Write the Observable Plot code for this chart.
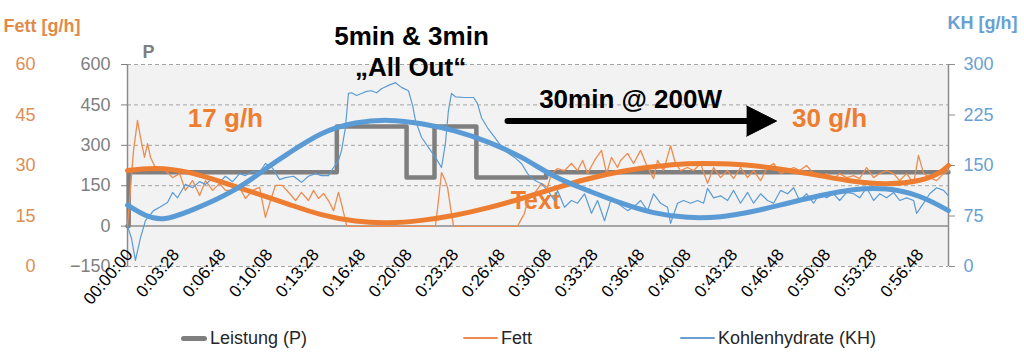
<!DOCTYPE html>
<html><head><meta charset="utf-8">
<script src="https://cdn.jsdelivr.net/npm/d3@7"></script>
<script src="https://cdn.jsdelivr.net/npm/@observablehq/plot@0.6"></script>
<style>
body{margin:0;background:#fff;font-family:"Liberation Sans",Arial,sans-serif;}
#chart{position:relative;width:1024px;height:359px;overflow:hidden;}
#legend{position:absolute;top:320px;left:0;width:1024px;height:39px;font-size:18px;color:#262626;}
.item{position:absolute;top:6px;height:24px;display:flex;align-items:center;white-space:nowrap;}
.sw{display:inline-block;margin-right:3px;border-radius:3px;}
</style></head><body><div id="chart"></div>
<script>
// ---- data ----
const xTicks = [0,200,400,600,800,1000,1200,1400,1600,1800,2000,2200,2400,2600,2800,3000,3200,3400];
const xLabels = ["00:00:00","0:03:28","0:06:48","0:10:08","0:13:28","0:16:48","0:20:08","0:23:28","0:26:48","0:30:08","0:33:28","0:36:48","0:40:08","0:43:28","0:46:48","0:50:08","0:53:28","0:56:48"];
const pTicks = [-150,0,150,300,450,600];
const kcalTicksKH = [0,75,150,225,300];
const fettTicks = [0,15,30,45,60];

// Leistung (P) in W
const stepTime = [0,5,900,1200,1320,1500,1800,3530];
const stepWatts = [0,200,370,180,370,180,200,200];

// Fett [g/h]
const fettTime = [0,26,43,56,73,86,99,120,142,163,194,224,249,280,310,335,366,396,421,452,482,507,538,568,593,615,636,666,697,723,748,778,800,821,843,864,886,907,920,942,959,1324,1337,1350,1363,1376,1389,1402,1677,1690,1707,1720,1750,1780,1806,1823,1849,1879,1909,1935,1957,1978,2008,2038,2060,2081,2107,2120,2150,2176,2206,2236,2262,2279,2305,2335,2356,2378,2408,2434,2464,2494,2520,2550,2580,2606,2636,2666,2692,2722,2752,2778,2808,2838,2864,2890,2920,2950,2976,3006,3036,3062,3092,3122,3148,3178,3208,3234,3264,3294,3320,3350,3380,3401,3423,3449,3479,3509,3530];
const fettValues = [12,34.5,43.4,38.3,32.4,36.5,32.4,29.4,29.4,28.5,26.4,27.6,22.6,25.5,21.1,25.5,22.6,24.7,22.6,22.6,23.5,20.2,22.6,23.5,14.6,19.6,24.1,24.1,21.7,19.6,22.0,19.6,22.6,20.2,21.7,19.6,16.6,22.0,18.7,12.2,11.9,11.9,19.6,27.9,26.1,23.5,17.5,11.9,11.9,13.7,15.7,19.6,21.7,24.7,23.5,27.6,29.1,28.5,30.6,28.5,31.5,27.6,31.5,34.5,27.6,32.4,29.4,31.5,33.6,30.6,34.5,29.4,26.1,31.5,28.5,35.9,30.6,28.5,29.4,28.5,30.6,24.7,29.4,26.4,28.5,26.1,29.4,26.4,28.5,25.5,29.4,30.6,27.6,28.5,29.4,28.5,30.0,27.6,26.4,27.6,26.1,27.6,26.4,27.0,26.1,29.4,26.4,27.6,28.5,27.6,25.5,27.6,24.7,33.0,27.6,26.4,25.5,27.6,28.5];

// Kohlenhydrate (KH) [g/h]
const khTime = [0,17,34,56,69,77,112,138,172,194,215,249,280,310,335,366,396,421,452,482,507,538,568,593,624,654,679,714,748,778,808,834,864,886,907,920,937,950,963,985,1006,1028,1049,1071,1092,1122,1152,1178,1208,1226,1238,1264,1294,1324,1350,1367,1380,1393,1410,1449,1488,1505,1522,1548,1578,1621,1664,1694,1720,1750,1780,1806,1836,1849,1879,1909,1935,1965,1995,2021,2051,2081,2107,2150,2176,2206,2236,2262,2292,2322,2335,2365,2391,2421,2451,2477,2494,2520,2550,2580,2606,2636,2666,2692,2722,2752,2778,2808,2838,2864,2890,2920,2950,2976,3006,3036,3062,3092,3122,3148,3178,3208,3234,3264,3294,3320,3350,3380,3393,3423,3449,3479,3509,3530];
const khValues = [60,42,9,43,58,68,83,88,95,110,102,122,117,126,122,131,125,134,126,138,135,141,140,153,146,129,132,134,125,134,138,135,135,147,157,172,206,257,258,254,257,260,261,258,264,269,273,266,261,239,217,192,177,162,147,183,232,257,252,251,251,242,221,206,192,172,162,153,138,128,123,113,98,113,88,98,94,108,79,98,68,102,94,83,88,98,83,108,94,88,64,94,98,94,98,94,116,102,105,98,113,94,110,94,108,98,94,113,108,117,98,108,94,108,102,108,98,110,108,102,117,98,108,102,110,98,102,98,79,94,108,117,113,105];

// trend lines
const fettTrendTime = [0,120,267,409,550,697,834,980,1122,1264,1406,1548,1694,1836,1978,2124,2262,2408,2550,2692,2838,2976,3122,3264,3406,3491,3530];
const fettTrendValues = [28.5,29.1,27.9,25.0,21.8,18.4,15.4,13.5,13.0,13.7,15.2,17.4,20.2,23.2,26.0,28.2,29.6,30.5,30.5,29.9,28.6,27.0,25.3,24.6,25.6,27.9,30.0];
const khTrendTime = [0,77,155,271,456,602,692,834,980,1122,1264,1410,1548,1694,1836,1978,2124,2262,2408,2550,2692,2838,2976,3122,3264,3406,3530];
const khTrendValues = [91,76,71,83,113,147,168,197,213,217,212,201,185,162,134,113,94,80,73,74,82,94,105,114,115,104,83];

// annotations
const noteText = ["5min & 3min","\u201EAll Out\u201C","30min @ 200W","17 g/h","30 g/h","Text"];
const noteTime = [1221,1217,2163,421,3019,1754];
const noteWatts = [705,587,468,399,399,93];
const noteColor = ["#000","#000","#000","#ed7d31","#ed7d31","#ed7d31"];
const arrowTime = [1634,2670];
const arrowWatts = [390,390];
const headTime = [2662,2791,2662];
const headWatts = [446,390,334];

const legendNames = ["Leistung (P)","Fett","Kohlenhydrate (KH)"];
const legendColors = ["#7f7f7f","#ec8c50","#6a9fd3"];

// ---- build ----
const rows = (t,v) => t.map((d,i)=>({t:d, v:v[i]}));
const khToP = v => -150 + v*2.5;    // secondary axis 0..300 -> -150..600
const fettToP = v => -150 + v*12.5; // secondary axis 0..60 -> -150..600
const sideTicksP = kcalTicksKH.map(khToP);

const font = "Liberation Sans, Arial, sans-serif";
const chart = Plot.plot({
  width:1024, height:320,
  marginLeft:127, marginRight:76, marginTop:64, marginBottom:54,
  style:{fontFamily:font, background:"transparent", overflow:"visible"},
  x:{domain:[0,3530], label:null},
  y:{domain:[-150,600], label:null},
  marks:[
    Plot.frame({fill:"#f2f2f2", stroke:null}),
    Plot.gridY(pTicks.filter(d=>d!==0), {stroke:"#a3a3a3", strokeOpacity:1, strokeDasharray:"4,3"}),
    Plot.ruleY([0], {stroke:"#8c8c8c", strokeWidth:1.5}),
    Plot.ruleX([0,3530], {stroke:"#8c8c8c", strokeWidth:1.5}),
    Plot.axisY(pTicks, {anchor:"left", tickSize:6, tickPadding:11, fontSize:18, color:"#7f7f7f", label:null}),
    Plot.axisY(sideTicksP, {anchor:"left", tickSize:0, tickPadding:92, fontSize:18, color:"#de8d55", label:null,
      tickFormat: d => fettTicks[sideTicksP.indexOf(d)]}),
    Plot.axisY(sideTicksP, {anchor:"right", tickSize:6, tickFormat: () => "", color:"#8c8c8c", label:null}),
    Plot.axisY(sideTicksP, {anchor:"right", tickSize:0, tickPadding:15, fontSize:18, color:"#6a9fd3", label:null,
      tickFormat: d => kcalTicksKH[sideTicksP.indexOf(d)]}),
    Plot.axisX(xTicks, {anchor:"bottom", tickSize:0, tickPadding:0, tickRotate:-50, fontSize:17, color:"#000", label:null,
      dx:2, dy:-15, tickFormat: d => xLabels[xTicks.indexOf(d)]}),
    Plot.line(rows(stepTime, stepWatts), {x:"t", y:"v", curve:"step-after", stroke:"#7f7f7f", strokeWidth:4.5}),
    Plot.text([5], {x: noteTime[5], y: noteWatts[5], text: () => noteText[5], fill: noteColor[5], fontSize:25, fontWeight:"bold"}),
    Plot.line(rows(fettTime, fettValues), {x:"t", y: d => fettToP(d.v), stroke:"#ec8c50", strokeWidth:1.3}),
    Plot.line(rows(khTime, khValues), {x:"t", y: d => khToP(d.v), stroke:"#5b9bd5", strokeWidth:1.2}),
    Plot.line(rows(fettTrendTime, fettTrendValues), {x:"t", y: d => fettToP(d.v), curve:"natural", stroke:"#ed7d31", strokeWidth:5}),
    Plot.line(rows(khTrendTime, khTrendValues), {x:"t", y: d => khToP(d.v), curve:"natural", stroke:"#5b9bd5", strokeWidth:5}),
    Plot.text([0,1,2,3,4], {x: i => noteTime[i], y: i => noteWatts[i], text: i => noteText[i], fill: i => noteColor[i], fontSize:26, fontWeight:"bold"}),
    Plot.line(rows(arrowTime, arrowWatts), {x:"t", y:"v", stroke:"#000", strokeWidth:6}),
    Plot.line(rows(headTime, headWatts), {x:"t", y:"v", fill:"#000", stroke:"#000", strokeWidth:1}),
    Plot.text(["Fett [g/h]"], {text:d=>d, frameAnchor:"top-left", dx:-124, dy:-45, textAnchor:"start", fill:"#e08a4b", fontSize:18, fontWeight:"bold"}),
    Plot.text(["KH [g/h]"], {text:d=>d, frameAnchor:"top-right", dx:-1, dy:-48, textAnchor:"start", fill:"#6a9fd3", fontSize:18, fontWeight:"bold"}),
    Plot.text(["P"], {text:d=>d, frameAnchor:"top-left", dx:15, dy:-19, textAnchor:"start", fill:"#7f7f7f", fontSize:18, fontWeight:"bold"})
  ]
});
const root = document.getElementById("chart");
root.appendChild(chart);

// legend
const legendLeft = [181,463,680];
const legend = d3.select(root).append("div").attr("id","legend");
legendNames.forEach((name,i) => {
  const it = legend.append("div").attr("class","item").style("left", legendLeft[i]+"px");
  it.append("span").attr("class","sw")
    .style("width", (i===0?26:35)+"px")
    .style("height", (i===0?5:1.5)+"px")
    .style("background", legendColors[i]);
  it.append("span").text(name);
});
</script></body></html>
